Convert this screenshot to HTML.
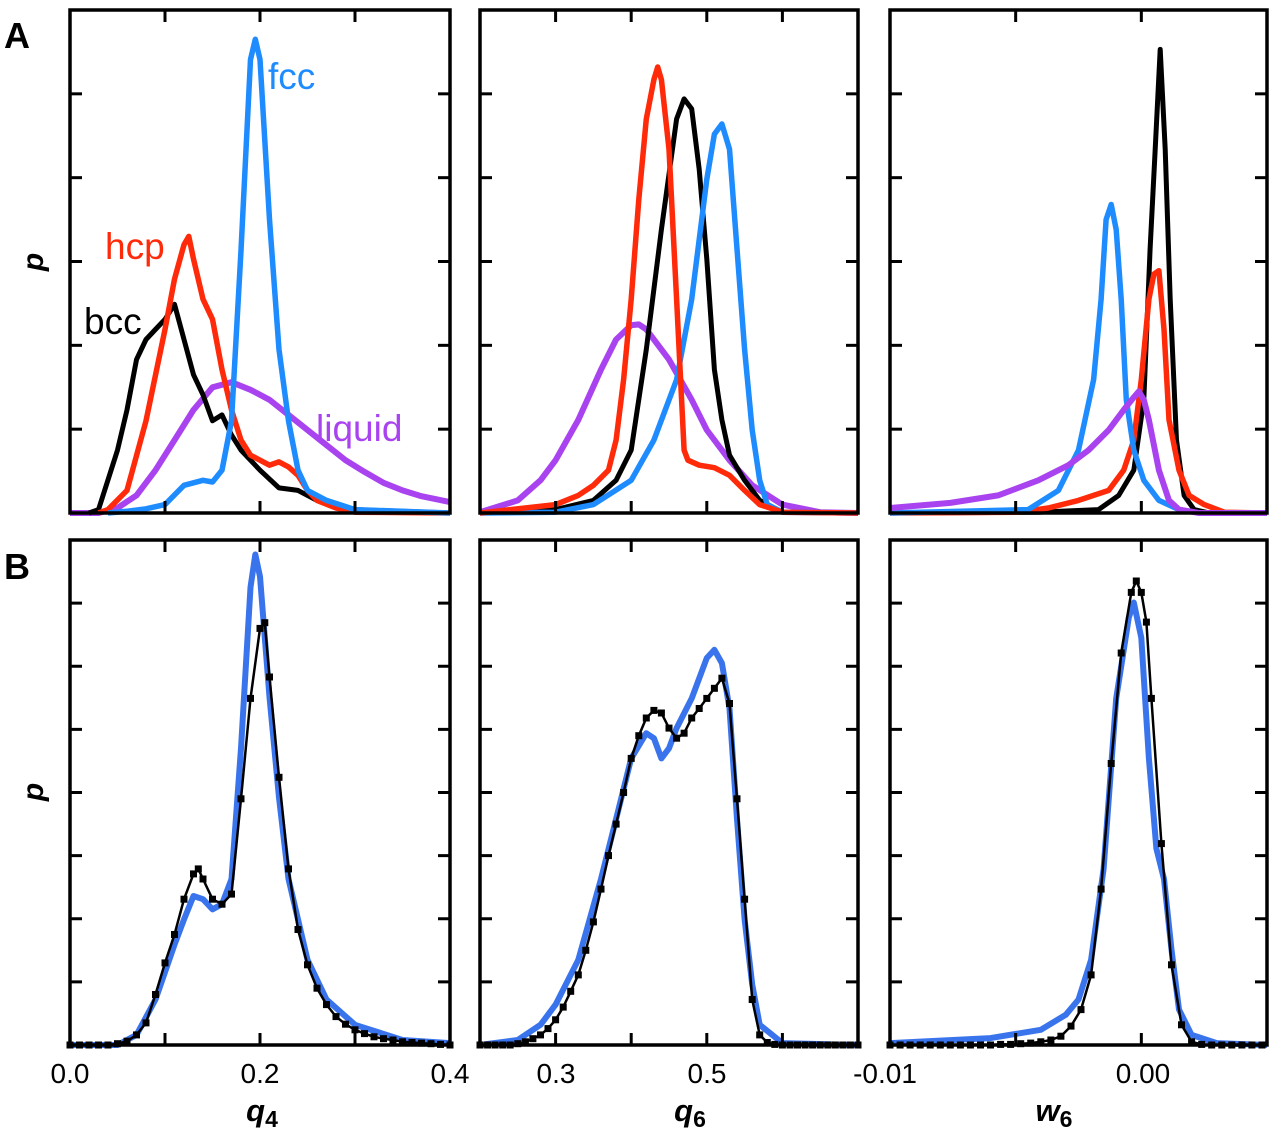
<!DOCTYPE html>
<html><head><meta charset="utf-8"><style>
body{margin:0;background:#fff;}
svg{display:block;font-family:"Liberation Sans",sans-serif;}
</style></head><body>
<svg id="fig" width="1280" height="1132" viewBox="0 0 1280 1132" xmlns="http://www.w3.org/2000/svg"></svg>
<script>
// ---- data (y in tick units) ----
const q4Fcc_x=[0.04,0.06,0.08,0.10,0.12,0.14,0.15,0.16,0.17,0.18,0.19,0.195,0.20,0.21,0.22,0.23,0.24,0.25,0.27,0.30,0.40];
const q4Fcc_y=[0,0.02,0.05,0.1,0.33,0.39,0.37,0.51,1.1,3.13,5.41,5.65,5.41,3.5,1.95,1.1,0.51,0.27,0.15,0.04,0];
const q4Bcc_x=[0.02,0.03,0.05,0.06,0.07,0.08,0.09,0.10,0.11,0.12,0.13,0.14,0.15,0.16,0.17,0.18,0.20,0.22,0.24,0.26,0.28,0.30,0.40];
const q4Bcc_y=[0,0.04,0.75,1.23,1.83,2.07,2.19,2.31,2.49,2.07,1.65,1.41,1.1,1.17,0.93,0.75,0.51,0.3,0.27,0.15,0.08,0.04,0];
const q4Hcp_x=[0.03,0.04,0.06,0.08,0.10,0.11,0.12,0.125,0.13,0.14,0.15,0.16,0.17,0.18,0.19,0.20,0.21,0.22,0.23,0.24,0.25,0.26,0.28,0.30,0.40];
const q4Hcp_y=[0,0.04,0.27,1.1,2.19,2.79,3.2,3.3,3.03,2.55,2.31,1.71,1.23,0.87,0.69,0.63,0.57,0.61,0.55,0.45,0.27,0.15,0.06,0.01,0];
const q4Liq_x=[0.0,0.03,0.05,0.07,0.09,0.11,0.13,0.15,0.17,0.19,0.21,0.23,0.25,0.27,0.29,0.31,0.33,0.35,0.37,0.40];
const q4Liq_y=[0,0,0.06,0.21,0.51,0.87,1.23,1.5,1.56,1.47,1.35,1.17,0.99,0.81,0.63,0.49,0.36,0.27,0.2,0.13];

const q6Hcp_x=[0.2,0.3,0.33,0.35,0.37,0.38,0.39,0.40,0.41,0.42,0.43,0.435,0.44,0.45,0.46,0.47,0.475,0.49,0.51,0.53,0.55,0.57,0.60,0.7];
const q6Hcp_y=[0,0.1,0.21,0.33,0.51,0.87,1.59,2.55,3.74,4.7,5.17,5.32,5.17,4.34,2.55,0.75,0.63,0.57,0.54,0.45,0.27,0.1,0.01,0];
const q6Bcc_x=[0.2,0.3,0.35,0.38,0.40,0.42,0.44,0.46,0.47,0.48,0.49,0.50,0.51,0.52,0.53,0.55,0.57,0.60,0.7];
const q6Bcc_y=[0,0.04,0.15,0.39,0.75,1.95,3.38,4.7,4.94,4.82,4.1,3.03,1.71,1.11,0.69,0.39,0.15,0.01,0];
const q6Fcc_x=[0.2,0.3,0.35,0.40,0.43,0.46,0.48,0.50,0.51,0.52,0.53,0.54,0.55,0.56,0.57,0.58,0.60,0.7];
const q6Fcc_y=[0,0.01,0.1,0.39,0.87,1.59,2.55,3.98,4.52,4.64,4.34,3.15,1.95,0.99,0.39,0.1,0.01,0];
const q6Liq_x=[0.2,0.25,0.28,0.30,0.33,0.36,0.38,0.40,0.41,0.42,0.45,0.48,0.50,0.53,0.56,0.60,0.65,0.7];
const q6Liq_y=[0.01,0.15,0.39,0.63,1.11,1.71,2.07,2.24,2.25,2.19,1.83,1.35,0.99,0.63,0.33,0.1,0.01,0];

const w6Bcc_x=[-0.01,-0.0041,-0.0017,-0.0009,-0.0003,0.0001,0.00035,0.00055,0.00075,0.00095,0.00115,0.0014,0.0017,0.0021,0.0027,0.005];
const w6Bcc_y=[0,0.01,0.04,0.21,0.51,1.35,3.15,4.34,5.53,4.34,2.55,0.87,0.21,0.04,0,0];
const w6Hcp_x=[-0.01,-0.0049,-0.0037,-0.0025,-0.0013,-0.0007,-0.0003,0.0,0.0003,0.0005,0.0007,0.0009,0.0011,0.0015,0.0019,0.0025,0.0033,0.005];
const w6Hcp_y=[0,0.01,0.06,0.15,0.27,0.51,0.87,1.59,2.55,2.85,2.89,2.19,1.11,0.51,0.21,0.1,0.01,0];
const w6Fcc_x=[-0.01,-0.0045,-0.0033,-0.0025,-0.0019,-0.0016,-0.0014,-0.0012,-0.001,-0.0008,-0.0006,-0.0003,0.0001,0.0007,0.0015,0.0023,0.005];
const w6Fcc_y=[0,0.04,0.27,0.75,1.59,2.55,3.5,3.68,3.38,2.55,1.35,0.75,0.39,0.15,0.04,0,0];
const w6Liq_x=[-0.01,-0.0076,-0.0057,-0.0041,-0.0029,-0.0021,-0.0013,-0.0007,-0.0003,-0.0001,0.0001,0.0003,0.0007,0.0011,0.0015,0.0023,0.005];
const w6Liq_y=[0.06,0.12,0.21,0.39,0.57,0.75,0.99,1.23,1.38,1.45,1.35,1.11,0.51,0.15,0.04,0,0];

// bottom row (8 tick units)
const bq4Blue_x=[0.0,0.05,0.07,0.09,0.11,0.12,0.13,0.14,0.15,0.16,0.17,0.18,0.19,0.195,0.20,0.21,0.22,0.23,0.25,0.27,0.30,0.35,0.40];
const bq4Blue_y=[0,0,0.16,0.72,1.59,1.99,2.36,2.31,2.15,2.23,2.63,4.7,7.25,7.77,7.42,5.51,3.92,2.63,1.35,0.72,0.32,0.08,0.03];
const bq4Blk_x=[0.0,0.01,0.02,0.03,0.04,0.05,0.06,0.07,0.08,0.09,0.10,0.11,0.12,0.13,0.135,0.14,0.15,0.16,0.17,0.18,0.19,0.20,0.205,0.21,0.22,0.23,0.24,0.25,0.26,0.27,0.28,0.29,0.30,0.31,0.32,0.33,0.34,0.35,0.36,0.37,0.38,0.39,0.40];
const bq4Blk_y=[0,0,0,0,0,0.02,0.06,0.16,0.35,0.8,1.3,1.75,2.31,2.71,2.79,2.63,2.31,2.23,2.39,3.9,5.49,6.6,6.69,5.83,4.24,2.79,1.83,1.27,0.9,0.64,0.45,0.33,0.24,0.18,0.13,0.1,0.08,0.05,0.04,0.03,0.02,0.01,0];
const bq6Blue_x=[0.2,0.25,0.28,0.30,0.33,0.36,0.38,0.40,0.42,0.43,0.44,0.45,0.46,0.48,0.50,0.51,0.52,0.53,0.54,0.55,0.56,0.57,0.60,0.7];
const bq6Blue_y=[0,0.08,0.32,0.64,1.35,2.63,3.58,4.54,4.94,4.86,4.54,4.7,5.02,5.49,6.13,6.26,6.05,5.33,3.58,1.99,0.96,0.32,0.03,0];
const bq6Blk_x=[0.20,0.21,0.22,0.23,0.24,0.25,0.26,0.27,0.28,0.29,0.30,0.31,0.32,0.33,0.34,0.35,0.36,0.37,0.38,0.39,0.40,0.41,0.42,0.43,0.44,0.45,0.46,0.47,0.48,0.49,0.50,0.51,0.52,0.53,0.54,0.55,0.56,0.57,0.58,0.59,0.60,0.61,0.62,0.63,0.64,0.65,0.66,0.67,0.68,0.69,0.70];
const bq6Blk_y=[0,0,0,0,0,0.02,0.05,0.1,0.16,0.26,0.4,0.6,0.85,1.11,1.5,1.95,2.47,3.0,3.5,4.0,4.54,4.9,5.18,5.3,5.26,5.02,4.86,4.94,5.18,5.33,5.49,5.65,5.81,5.41,3.9,2.31,0.72,0.16,0.04,0.01,0,0,0,0,0,0,0,0,0,0,0];
const bw6Blue_x=[-0.01,-0.006,-0.004,-0.003,-0.0025,-0.002,-0.0015,-0.001,-0.0005,-0.0003,0.0,0.0003,0.0006,0.0009,0.0012,0.0015,0.002,0.003,0.005];
const bw6Blue_y=[0.03,0.11,0.24,0.48,0.72,1.35,2.79,5.49,6.77,7.01,6.45,4.54,3.11,2.63,1.51,0.56,0.16,0.03,0];
const bw6Blk_x=[-0.01,-0.0096,-0.0092,-0.0088,-0.0084,-0.008,-0.0076,-0.0072,-0.0068,-0.0064,-0.006,-0.0056,-0.0052,-0.0048,-0.0044,-0.004,-0.0036,-0.0032,-0.0028,-0.0024,-0.002,-0.0016,-0.0012,-0.0008,-0.0004,-0.0002,0.0,0.0002,0.0004,0.0008,0.0012,0.0016,0.002,0.0024,0.0028,0.0032,0.0036,0.004,0.0044,0.0048];
const bw6Blk_y=[0,0,0,0,0,0,0,0,0,0,0,0.01,0.01,0.02,0.03,0.05,0.08,0.14,0.3,0.56,1.11,2.47,4.46,6.21,7.17,7.35,7.17,6.7,5.49,3.19,1.27,0.32,0.05,0.01,0,0,0,0,0,0];

const NS="http://www.w3.org/2000/svg";
const svg=document.getElementById('fig');
function el(tag,attrs,parent){const e=document.createElementNS(NS,tag);for(const k in attrs)e.setAttribute(k,attrs[k]);(parent||svg).appendChild(e);return e;}

const panels=[
 {id:'a-q4',x0:70,x1:450,y0:10,y1:513,d0:0,d1:0.4,units:6,xt:[0.1,0.2,0.3]},
 {id:'a-q6',x0:480,x1:858,y0:10,y1:513,d0:0.2,d1:0.7,units:6,xt:[0.3,0.4,0.5,0.6]},
 {id:'a-w6',x0:890,x1:1267,y0:10,y1:513,d0:-0.01,d1:0.005,units:6,xt:[-0.005,0]},
 {id:'b-q4',x0:70,x1:450,y0:540,y1:1045,d0:0,d1:0.4,units:8,xt:[0.1,0.2,0.3]},
 {id:'b-q6',x0:480,x1:858,y0:540,y1:1045,d0:0.2,d1:0.7,units:8,xt:[0.3,0.4,0.5,0.6]},
 {id:'b-w6',x0:890,x1:1267,y0:540,y1:1045,d0:-0.01,d1:0.005,units:8,xt:[-0.005,0]}
];
function sx(p,v){return p.x0+(v-p.d0)/(p.d1-p.d0)*(p.x1-p.x0);}
function sy(p,v){return p.y1-v/p.units*(p.y1-p.y0);}

function drawLine(p,xs,ys,color,w,name,markers){
  const g=el('g',{});
  
  
  const pts=xs.map((x,i)=>sx(p,x).toFixed(1)+','+sy(p,ys[i]).toFixed(1)).join(' ');
  const pl=el('polyline',{points:pts,fill:'none',stroke:color,'stroke-width':w,'stroke-linejoin':'round'},g);
  
  
  if(markers){xs.forEach((x,i)=>{
    const r=el('rect',{x:(sx(p,x)-3.5).toFixed(1),y:(sy(p,ys[i])-3.5).toFixed(1),width:7,height:7,fill:color},g);
    
    
  });}
}
function drawFrame(p){
  const g=el('g',{});
  
  
  for(let u=1;u<p.units;u++){const y=sy(p,u);
    el('line',{x1:p.x0,x2:p.x0+12,y1:y,y2:y,stroke:'#000','stroke-width':3},g);
    el('line',{x1:p.x1-12,x2:p.x1,y1:y,y2:y,stroke:'#000','stroke-width':3},g);}
  p.xt.forEach(v=>{const x=sx(p,v);
    el('line',{x1:x,x2:x,y1:p.y1,y2:p.y1-12,stroke:'#000','stroke-width':3},g);
    el('line',{x1:x,x2:x,y1:p.y0,y2:p.y0+12,stroke:'#000','stroke-width':3},g);});
  el('rect',{x:p.x0,y:p.y0,width:p.x1-p.x0,height:p.y1-p.y0,fill:'none',stroke:'#000','stroke-width':3.5},g);
}
const BLUE='#1e8cff',RED='#ff2a0a',PURP='#a943f0',BBLUE='#3a74ec';
const P=panels;
drawLine(P[0],q4Liq_x,q4Liq_y,PURP,6,'q4-liquid-curve');
drawLine(P[0],q4Bcc_x,q4Bcc_y,'#000',5,'q4-bcc-curve');
drawLine(P[0],q4Hcp_x,q4Hcp_y,RED,5.5,'q4-hcp-curve');
drawLine(P[0],q4Fcc_x,q4Fcc_y,BLUE,5.5,'q4-fcc-curve');
drawLine(P[1],q6Liq_x,q6Liq_y,PURP,6,'q6-liquid-curve');
drawLine(P[1],q6Bcc_x,q6Bcc_y,'#000',5,'q6-bcc-curve');
drawLine(P[1],q6Fcc_x,q6Fcc_y,BLUE,5.5,'q6-fcc-curve');
drawLine(P[1],q6Hcp_x,q6Hcp_y,RED,5.5,'q6-hcp-curve');
drawLine(P[2],w6Bcc_x,w6Bcc_y,'#000',5,'w6-bcc-curve');
drawLine(P[2],w6Hcp_x,w6Hcp_y,RED,5.5,'w6-hcp-curve');
drawLine(P[2],w6Fcc_x,w6Fcc_y,BLUE,5.5,'w6-fcc-curve');
drawLine(P[2],w6Liq_x,w6Liq_y,PURP,6,'w6-liquid-curve');
drawLine(P[3],bq4Blue_x,bq4Blue_y,BBLUE,6,'b-q4-blue-curve');
drawLine(P[3],bq4Blk_x,bq4Blk_y,'#000',2.5,'b-q4-black-curve',true);
drawLine(P[4],bq6Blue_x,bq6Blue_y,BBLUE,6,'b-q6-blue-curve');
drawLine(P[4],bq6Blk_x,bq6Blk_y,'#000',2.5,'b-q6-black-curve',true);
drawLine(P[5],bw6Blue_x,bw6Blue_y,BBLUE,6,'b-w6-blue-curve');
drawLine(P[5],bw6Blk_x,bw6Blk_y,'#000',2.5,'b-w6-black-curve',true);
P.forEach(drawFrame);

function txt(x,y,s,attrs,name){const t=el('text',Object.assign({x:x,y:y},attrs));t.textContent=s;
  
  return t;}
// legend labels
txt(268,89,'fcc',{'font-size':37,fill:BLUE},'label-fcc');
txt(105,259,'hcp',{'font-size':37,fill:RED},'label-hcp');
txt(84,334,'bcc',{'font-size':37,fill:'#000'},'label-bcc');
txt(316,441,'liquid',{'font-size':37,fill:PURP},'label-liquid');
// panel letters
txt(4,48,'A',{'font-size':36,'font-weight':'bold'},'panel-label-a');
txt(4,579,'B',{'font-size':36,'font-weight':'bold'},'panel-label-b');
// y titles
txt(0,0,'p',{'font-size':30,'font-weight':'bold','font-style':'italic',transform:'translate(43,262) rotate(-90)','text-anchor':'middle'},'y-axis-title-a');
txt(0,0,'p',{'font-size':30,'font-weight':'bold','font-style':'italic',transform:'translate(43,792) rotate(-90)','text-anchor':'middle'},'y-axis-title-b');
// x tick labels
const xl=[[70,'0.0'],[260,'0.2'],[450,'0.4'],[556,'0.3'],[707,'0.5'],[885,'-0.01'],[1143,'0.00']];
xl.forEach((a,i)=>txt(a[0],1083,a[1],{'font-size':28,'text-anchor':'middle'},'x-tick-label'));
// x titles
function xtitle(x,b,sub,name){const t=el('text',{x:x,y:1121,'font-size':31,'font-weight':'bold','text-anchor':'middle'});
  
  const a=el('tspan',{'font-style':'italic'},t);a.textContent=b;
  const s=el('tspan',{'font-size':23,dy:6},t);s.textContent=sub;}
xtitle(262,'q','4','x-axis-title-q4');
xtitle(690,'q','6','x-axis-title-q6');
xtitle(1054,'w','6','x-axis-title-w6');
</script>
</body></html>
